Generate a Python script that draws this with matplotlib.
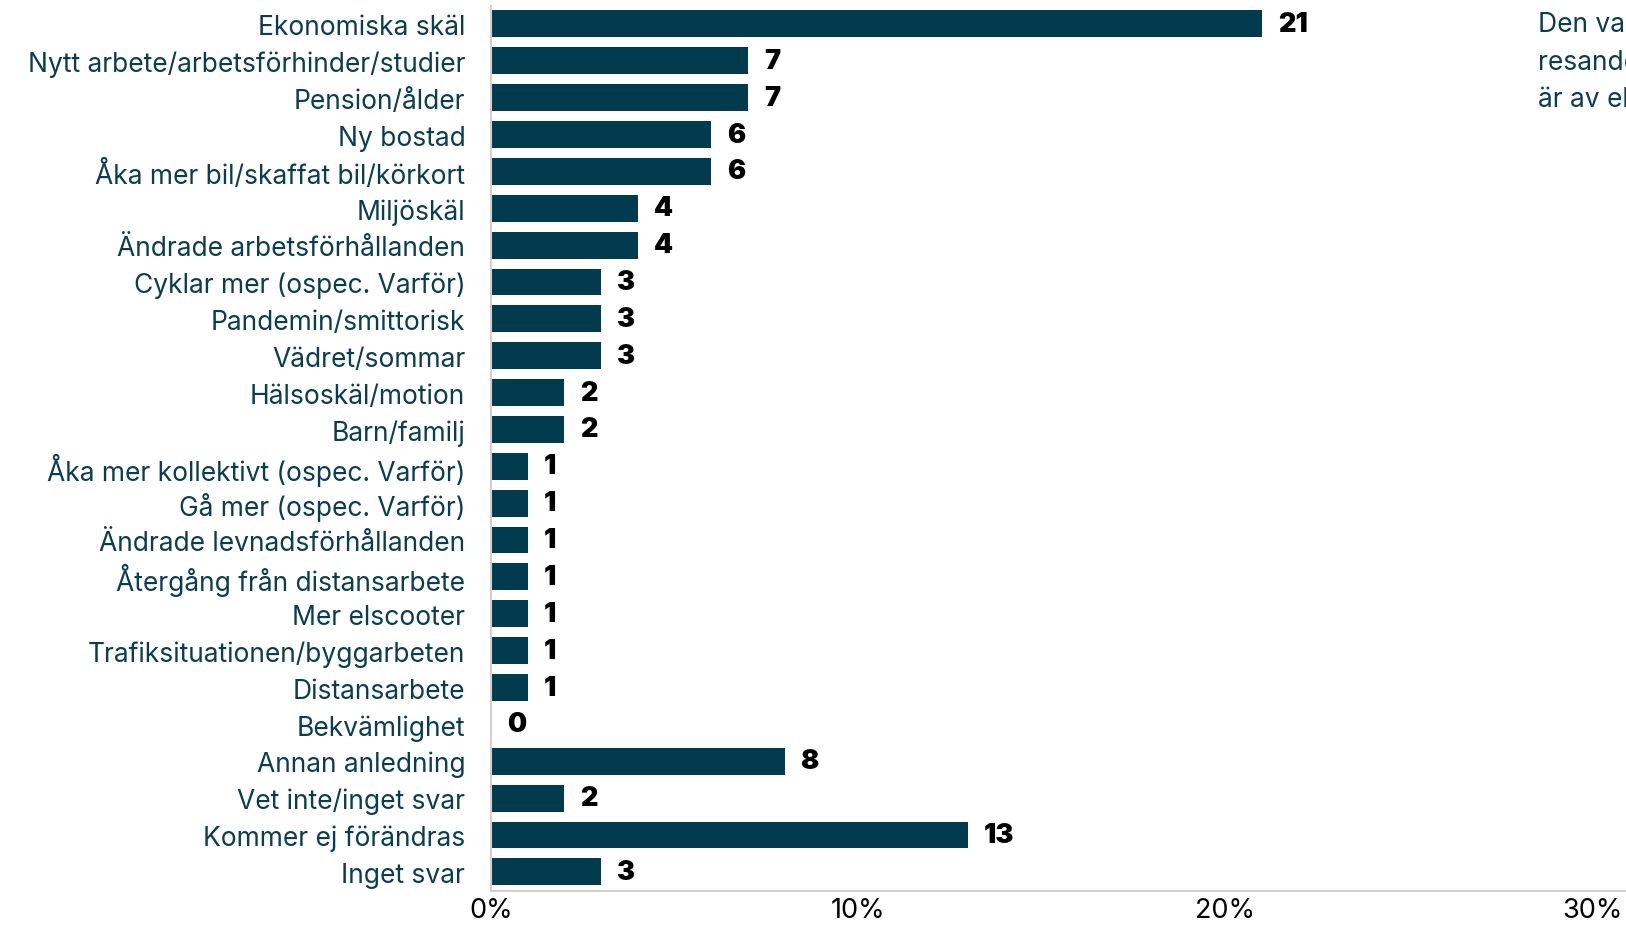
import matplotlib
matplotlib.use("Agg")
import matplotlib.pyplot as plt
from matplotlib.ticker import FuncFormatter

categories = [
    "Ekonomiska skäl",
    "Nytt arbete/arbetsförhinder/studier",
    "Pension/ålder",
    "Ny bostad",
    "Åka mer bil/skaffat bil/körkort",
    "Miljöskäl",
    "Ändrade arbetsförhållanden",
    "Cyklar mer (ospec. Varför)",
    "Pandemin/smittorisk",
    "Vädret/sommar",
    "Hälsoskäl/motion",
    "Barn/familj",
    "Åka mer kollektivt (ospec. Varför)",
    "Gå mer (ospec. Varför)",
    "Ändrade levnadsförhållanden",
    "Återgång från distansarbete",
    "Mer elscooter",
    "Trafiksituationen/byggarbeten",
    "Distansarbete",
    "Bekvämlighet",
    "Annan anledning",
    "Vet inte/inget svar",
    "Kommer ej förändras",
    "Inget svar",
]
values = [21, 7, 7, 6, 6, 4, 4, 3, 3, 3, 2, 2, 1, 1, 1, 1, 1, 1, 1, 0, 8, 2, 13, 3]
xticks = [0, 10, 20, 30]
side_text = ["Den vanligaste anledningen", "resandet ändras", "är av ekonomiska skäl"]

W, H = 1626, 928
fig = plt.figure(figsize=(W / 100, H / 100), dpi=100)
left, right, top, bottom = 491, 1626, 6.5, 892
px_per_unit = 36.7
ax = fig.add_axes([left / W, 1 - bottom / H, (right - left) / W, (bottom - top) / H])

bar_color = "#023a4e"
label_color = "#0b3d50"
fam = ["Inter", "DejaVu Sans"]

ypos = list(range(len(categories)))
ax.barh(ypos, values, height=0.73, color=bar_color)
ax.set_ylim(len(categories) - 1 + 0.52, -0.5)
ax.set_xlim(0, (right - left) / px_per_unit)

for y, v in zip(ypos, values):
    ax.annotate(str(v), xy=(v, y), xytext=(16, 0), textcoords="offset pixels",
                va="center", ha="left", fontsize=19.5, fontweight="black",
                color="black", family=fam)

ax.set_yticks(ypos)
ax.set_yticklabels(categories, fontsize=19, color=label_color, family=fam)
ax.tick_params(axis="y", length=0, pad=18.5)
ax.set_xticks(xticks)
ax.xaxis.set_major_formatter(FuncFormatter(lambda x, p: f"{int(x)}%"))
ax.tick_params(axis="x", length=0, pad=4, labelsize=19.5, labelcolor="black")
for lab in ax.get_xticklabels():
    lab.set_family(fam)

for s in ["top", "right"]:
    ax.spines[s].set_visible(False)
for s in ["left", "bottom"]:
    ax.spines[s].set_color("#d0d0d0")
    ax.spines[s].set_linewidth(1.5)

for i, line in enumerate(side_text):
    fig.text(1538 / W, 1 - (25 + 37.5 * i) / H, line, fontsize=19, color=label_color,
             va="center", ha="left", family=fam)

fig.savefig("out.png", dpi=100)
